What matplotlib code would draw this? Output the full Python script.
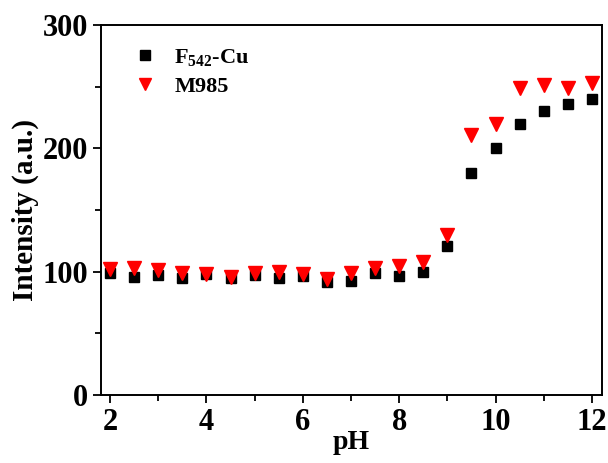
import matplotlib
matplotlib.use('Agg')
import matplotlib.pyplot as plt
from matplotlib.ticker import MultipleLocator

# pH values and intensities
ph = [2, 2.5, 3, 3.5, 4, 4.5, 5, 5.5, 6, 6.5, 7, 7.5, 8, 8.5, 9, 9.5, 10, 10.5, 11, 11.5, 12]
f542_cu = [99, 96, 97, 95, 98, 95, 97, 95, 96.5, 92, 92.5, 99, 96.5, 100, 121, 180, 200, 220, 230, 236, 240]
m985 = [102, 103, 101, 99, 98, 96, 99, 100, 98, 94, 99, 103, 105, 108, 130, 211, 220, 249, 251, 249, 253]

plt.rcParams['font.family'] = 'Liberation Serif'
plt.rcParams['font.weight'] = 'bold'
plt.rcParams['mathtext.fontset'] = 'custom'
plt.rcParams['mathtext.rm'] = 'Liberation Serif:bold'
plt.rcParams['mathtext.bf'] = 'Liberation Serif:bold'

fig = plt.figure(figsize=(6.08, 4.63), dpi=100)
ax = fig.add_axes([101 / 608, 68 / 463, 501 / 608, 370 / 463])

ax.plot(ph, f542_cu, 's', color='black', ms=7.5, label=r'F$_{542}$-Cu')
ax.plot(ph, m985, 'v', color='#ff0000', ms=10, label='M985')

ax.set_xlim(1.81, 12.21)
ax.set_ylim(0, 300)
ax.xaxis.set_major_locator(MultipleLocator(2))
ax.xaxis.set_minor_locator(MultipleLocator(1))
ax.yaxis.set_major_locator(MultipleLocator(100))
ax.yaxis.set_minor_locator(MultipleLocator(50))
ax.tick_params(which='both', direction='out', width=1.3, labelsize=22)
ax.tick_params(which='major', length=6)
ax.tick_params(which='minor', length=4)
ax.tick_params(axis='x', pad=3)
for s in ax.spines.values():
    s.set_linewidth(1.4)

ax.set_xlabel('pH', fontsize=20, fontweight='bold', labelpad=-5)
ax.set_ylabel('Intensity (a.u.)', fontsize=21, fontweight='bold', labelpad=2)

ax.legend(loc='upper left', frameon=False, fontsize=16, handletextpad=0.3,
          borderaxespad=0.6, labelspacing=0.35, markerscale=0.9)

fig.savefig('out.png', dpi=100)
